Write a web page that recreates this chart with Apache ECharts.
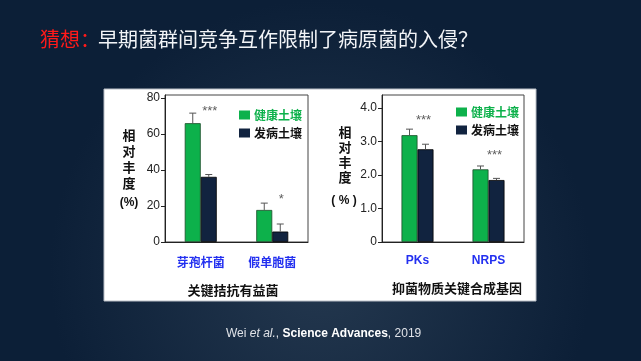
<!DOCTYPE html>
<html><head><meta charset="utf-8">
<script src="https://cdn.jsdelivr.net/npm/echarts@6/dist/echarts.min.js"></script>
<style>html,body{margin:0;padding:0;background:#0d2139;}#c{width:641px;height:361px;}</style>
</head><body><div id="c"></div>
<script>
// ---- data ----
const catsA = ['芽孢杆菌', '假单胞菌'];
const healthyA = [66, 17.8];
const healthyAErr = [71.6, 21.6];
const diseasedA = [36.2, 5.8];
const diseasedAErr = [37.5, 10];
const sigA = ['***', '*'];
const sigAY = [72.5, 23.5];

const catsB = ['PKs', 'NRPS'];
const healthyB = [3.19, 2.17];
const healthyBErr = [3.37, 2.27];
const diseasedB = [2.77, 1.85];
const diseasedBErr = [2.92, 1.90];
const sigB = ['***', '***'];
const sigBY = [3.62, 2.6];

const ticksA = [0, 20, 40, 60, 80];
const ticksB = [0, 1, 2, 3, 4];
const seriesNames = ['健康土壤', '发病土壤'];

const GREEN = '#0db14b', NAVY = '#11233f', BLUE = '#2330f0';
const CJK = '"Noto Sans CJK SC", "Liberation Sans", sans-serif';

const chart = echarts.init(document.getElementById('c'));

function errSeries(xi, yi, errs, vals, off) {
  return {
    type: 'custom', xAxisIndex: xi, yAxisIndex: yi, silent: true, z: 5,
    data: vals.map((v, i) => [i, v, errs[i]]),
    renderItem: function (params, api) {
      const b = api.coord([api.value(0), api.value(1)]);
      const t = api.coord([api.value(0), api.value(2)]);
      const x = b[0] + off;
      return {
        type: 'group', children: [
          { type: 'line', shape: { x1: x, y1: b[1], x2: x, y2: t[1] }, style: { stroke: '#555', lineWidth: 1 } },
          { type: 'line', shape: { x1: x - 3.5, y1: t[1], x2: x + 3.5, y2: t[1] }, style: { stroke: '#555', lineWidth: 1 } }
        ]
      };
    }
  };
}
function sigSeries(xi, yi, ys, labels, dx) {
  return {
    type: 'scatter', xAxisIndex: xi, yAxisIndex: yi, symbolSize: 0, silent: true,
    data: ys.map((y, i) => ({ value: [i, y], label: { formatter: labels[i] } })),
    label: { show: true, position: 'inside', offset: [dx, 0], color: '#333', fontSize: 13, fontFamily: 'Liberation Sans' }
  };
}
const axisLineStyle = { lineStyle: { color: '#222', width: 1 } };
const legendCommon = { orient: 'vertical', icon: 'rect', itemWidth: 11, itemHeight: 9, itemGap: 6,
  itemStyle: { borderWidth: 0 },
  data: [{ name: seriesNames[0], textStyle: { color: GREEN } }, { name: seriesNames[1], textStyle: { color: '#111' } }],
  textStyle: { fontSize: 12, fontWeight: 'bold', fontFamily: CJK, padding: [0, 0, 0, -1] } };

const option = {
  animation: false,
  backgroundColor: {
    type: 'radial', x: 0.5, y: 0.75, r: 0.75,
    colorStops: [{ offset: 0, color: '#24384f' }, { offset: 1, color: '#0c1f37' }]
  },
  graphic: [
    { type: 'rect', shape: { x: 104, y: 89, width: 432, height: 212 }, style: { fill: '#fff', stroke: '#b9bec6', lineWidth: 1 }, z: -10 },
    { type: 'text', left: 40, top: 29, style: { text: '猜想：', fill: '#ff1a1a', font: '20px ' + CJK } },
    { type: 'text', left: 98, top: 29, style: { text: '早期菌群间竞争互作限制了病原菌的入侵？', fill: '#f2f4f7', font: '20px ' + CJK } },
    { type: 'text', left: 226, top: 328, style: { rich: {
        n: { fill: '#e0e3e8', font: '12px "Liberation Sans"' },
        i: { fill: '#e0e3e8', font: 'italic 12px "Liberation Sans"' },
        b: { fill: '#ffffff', font: 'bold 12px "Liberation Sans"' } },
      text: '{n|Wei }{i|et al.}{n|, }{b|Science Advances}{n|, 2019}' } },
    { type: 'text', x: 129, y: 127, style: { text: '相\n对\n丰\n度', fill: '#111', font: 'bold 13px ' + CJK, align: 'center', lineHeight: 16 } },
    { type: 'text', x: 129, y: 197, style: { text: '(%)', fill: '#111', font: 'bold 12px "Liberation Sans"', align: 'center' } },
    { type: 'text', x: 345, y: 125, style: { text: '相\n对\n丰\n度', fill: '#111', font: 'bold 13px ' + CJK, align: 'center', lineHeight: 15 } },
    { type: 'text', x: 344, y: 195, style: { text: '( % )', fill: '#111', font: 'bold 12px "Liberation Sans"', align: 'center' } },
    { type: 'text', x: 233, y: 284, style: { text: '关键拮抗有益菌', fill: '#111', font: 'bold 13px ' + CJK, align: 'center' } },
    { type: 'text', x: 457, y: 282, style: { text: '抑菌物质关键合成基因', fill: '#111', font: 'bold 13px ' + CJK, align: 'center' } }
  ],
  legend: [
    Object.assign({ left: 234, top: 104 }, legendCommon),
    Object.assign({ left: 451, top: 101 }, legendCommon)
  ],
  grid: [
    { left: 165, top: 95, width: 143, height: 147, show: true, borderColor: '#444', borderWidth: 1, backgroundColor: 'transparent' },
    { left: 382, top: 95, width: 142, height: 147, show: true, borderColor: '#444', borderWidth: 1, backgroundColor: 'transparent' }
  ],
  xAxis: [
    { type: 'category', gridIndex: 0, data: catsA, axisTick: { show: false }, axisLine: axisLineStyle,
      axisLabel: { color: BLUE, fontWeight: 'bold', fontSize: 12, fontFamily: CJK, margin: 14 } },
    { type: 'category', gridIndex: 1, data: catsB, axisTick: { show: false }, axisLine: axisLineStyle,
      axisLabel: { color: BLUE, fontWeight: 'bold', fontSize: 12, fontFamily: 'Liberation Sans', margin: 13 } }
  ],
  yAxis: [
    { type: 'value', gridIndex: 0, min: 0, max: 81.67, splitLine: { show: false },
      axisLine: { show: true, lineStyle: { color: '#222' } },
      axisTick: { show: true, length: 4, customValues: ticksA, lineStyle: { color: '#222' } },
      axisLabel: { customValues: ticksA, color: '#222', fontSize: 12, fontFamily: 'Liberation Sans', margin: 5 } },
    { type: 'value', gridIndex: 1, min: 0, max: 4.39, splitLine: { show: false },
      axisLine: { show: true, lineStyle: { color: '#222' } },
      axisTick: { show: true, length: 4, customValues: ticksB, lineStyle: { color: '#222' } },
      axisLabel: { customValues: ticksB, color: '#222', fontSize: 12, fontFamily: 'Liberation Sans', margin: 5,
        formatter: v => v === 0 ? '0' : v.toFixed(1) } }
  ],
  series: [
    { name: seriesNames[0], type: 'bar', xAxisIndex: 0, yAxisIndex: 0, data: healthyA, barWidth: 16, barGap: '0%',
      itemStyle: { color: GREEN, borderColor: '#1d4d2a', borderWidth: 0.8 } },
    { name: seriesNames[1], type: 'bar', xAxisIndex: 0, yAxisIndex: 0, data: diseasedA, barWidth: 16, barGap: '0%',
      itemStyle: { color: NAVY, borderColor: '#000', borderWidth: 0.8 } },
    { name: seriesNames[0], type: 'bar', xAxisIndex: 1, yAxisIndex: 1, data: healthyB, barWidth: 16, barGap: '0%',
      itemStyle: { color: GREEN, borderColor: '#1d4d2a', borderWidth: 0.8 } },
    { name: seriesNames[1], type: 'bar', xAxisIndex: 1, yAxisIndex: 1, data: diseasedB, barWidth: 16, barGap: '0%',
      itemStyle: { color: NAVY, borderColor: '#000', borderWidth: 0.8 } },
    errSeries(0, 0, healthyAErr, healthyA, -8),
    errSeries(0, 0, diseasedAErr, diseasedA, 8),
    errSeries(1, 1, healthyBErr, healthyB, -8),
    errSeries(1, 1, diseasedBErr, diseasedB, 8),
    sigSeries(0, 0, sigAY, sigA, 9),
    sigSeries(1, 1, sigBY, sigB, 6)
  ]
};
chart.setOption(option);
</script></body></html>
